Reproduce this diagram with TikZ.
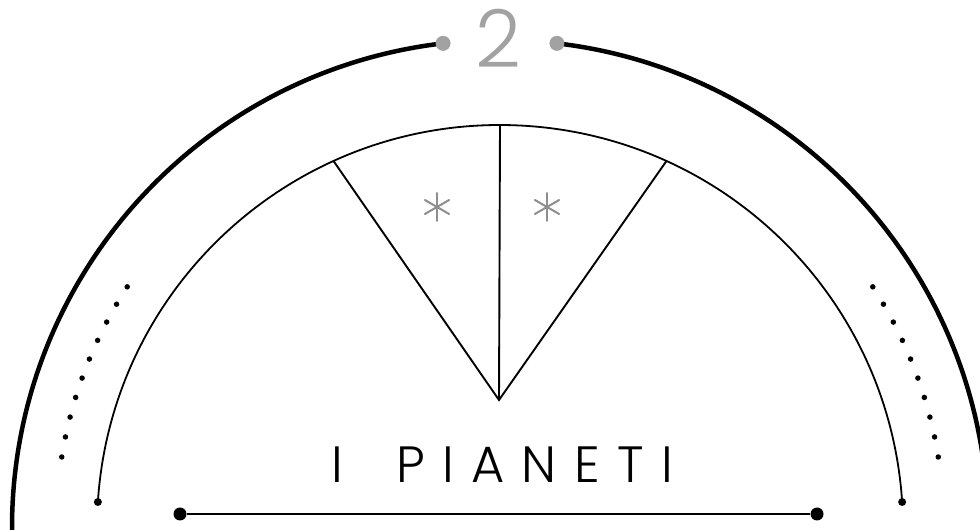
\documentclass[tikz,border=0pt]{standalone}
\usepackage{fontspec}
\newfontfamily\pfont{Poppins Light}
\definecolor{dotgray}{HTML}{A2A2A2}
\definecolor{stargray}{HTML}{8E8E8E}
\begin{document}
\begin{tikzpicture}[x=1pt,y=1pt,
  outerarc/.style={line width=4.5pt},
  innerarc/.style={line width=1.8pt},
  wedgeline/.style={line width=1.9pt},
  graydot/.style={circle,fill=dotgray,inner sep=0pt,minimum size=15pt},
  enddot/.style={circle,fill=black,inner sep=0pt,minimum size=8pt},
  bigdot/.style={circle,fill=black,inner sep=0pt,minimum size=13pt},
  smalldot/.style={circle,fill=black,inner sep=0pt,minimum size=5.5pt},
  starray/.style={stargray,line width=2pt,line cap=round}]
\useasboundingbox (0,0) rectangle (980,530);
\coordinate (C) at (500,2);
% outer thick arcs
\draw[outerarc] ([shift={(181:488)}]C) arc[start angle=181,end angle=96.7,radius=488];
\draw[outerarc] ([shift={(83.3:488)}]C) arc[start angle=83.3,end angle=-1,radius=488];
\node[graydot] (dl) at ([shift={(96.7:488)}]C) {};
\node[graydot] (dr) at ([shift={(83.3:488)}]C) {};
\node[text=dotgray,font=\pfont\fontsize{80}{80}\selectfont,anchor=base] (num) at (498,462) {2};
% inner arc
\draw[innerarc] ([shift={(176.3:403)}]C) arc[start angle=176.3,end angle=3.7,radius=403];
\node[enddot] (il) at ([shift={(176.3:403)}]C) {};
\node[enddot] (ir) at ([shift={(3.7:403)}]C) {};
% wedges
\coordinate (apex) at (499,130);
\coordinate (wl) at ([shift={(114.4:403)}]C);
\coordinate (wt) at ([shift={(90:403)}]C);
\coordinate (wr) at ([shift={(65.6:403)}]C);
\draw[wedgeline] (wl) -- (apex) -- (wr);
\draw[wedgeline] (apex) -- (wt);
% stars
\foreach \sx/\nm in {437/sa,547/sb}{
  \coordinate (\nm) at (\sx,323);
  \foreach \a in {90,30,-30}{
    \draw[starray] ([shift={(\a:14)}]\nm) -- ([shift={(\a+180:14)}]\nm);
  }
}
% dotted arcs
\foreach \i in {0,...,9}{
  \node[smalldot] (pl\i) at ([shift={(147.1+\i*2.633:444)}]C) {};
  \node[smalldot] (pr\i) at ([shift={(32.9-\i*2.633:444)}]C) {};
}
% title
\node[font=\pfont\fontsize{51}{51}\selectfont\addfontfeature{LetterSpace=34},anchor=base] (title) at (502,47) {I\hspace{22pt} PIANETI};
% bottom line
\node[bigdot] (bl) at (180,16) {};
\node[bigdot] (br) at (817,16) {};
\draw[line width=2.6pt] (bl) -- (br);
\end{tikzpicture}
\end{document}
